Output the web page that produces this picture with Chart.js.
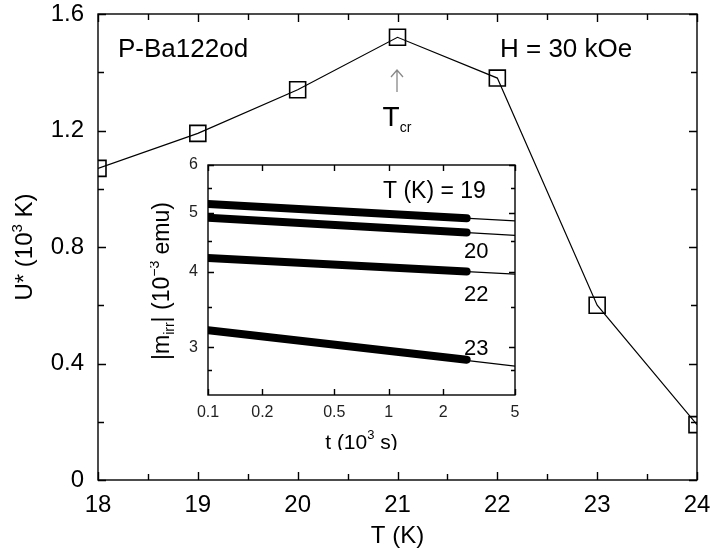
<!DOCTYPE html>
<html>
<head>
<meta charset="utf-8">
<script src="https://cdn.jsdelivr.net/npm/chart.js@4"></script>
<style>
  body { margin: 0; background: #fff; }
  #wrap { position: relative; width: 712px; height: 552px; }
  #mainChart { position: absolute; left: 0; top: 0; }
  #insetChart { position: absolute; left: 150px; top: 150px; }
</style>
</head>
<body>
<div id="wrap">
  <canvas id="mainChart" width="712" height="552"></canvas>
  <canvas id="insetChart" width="380" height="300"></canvas>
</div>
<script>
// main panel: U* vs T
const temps = [18, 19, 20, 21, 22, 23, 24];
const uStar = [1.07, 1.19, 1.34, 1.52, 1.38, 0.60, 0.19];
const xMajor = [18, 19, 20, 21, 22, 23, 24];
const xMinor = [18.5, 19.5, 20.5, 21.5, 22.5, 23.5];
const yMajor = [0, 0.4, 0.8, 1.2, 1.6];
const yMinor = [0.2, 0.6, 1.0, 1.4];
const yLabels = ['0', '0.4', '0.8', '1.2', '1.6'];

// inset: |m_irr| vs t (log-log), measured band + fitted line
const bandT = [0.1, 2.7];
const fitT = [0.1, 5];
const m19 = [5.17, 4.90], fit19 = [5.17, 4.85];
const m20 = [4.91, 4.64], fit20 = [4.91, 4.59];
const m22 = [4.21, 4.00], fit22 = [4.21, 3.96];
const m23 = [3.20, 2.86], fit23 = [3.20, 2.79];
const tTicks = [0.1, 0.2, 0.5, 1, 2, 5];
const tLabels = ['0.1', '0.2', '0.5', '1', '2', '5'];
const mTicks = [3, 4, 5, 6];
const mMinor = [2.75, 3.5, 4.5, 5.5];

const FONT = '"Liberation Sans", Arial, sans-serif';

function pts(xs, ys) {
    return xs.map((x, i) => ({ x: x, y: ys[i] }));
}

// pin scale size and drop the label overflow padding
function fixX(h) {
    return s => { s.height = h; s.paddingLeft = 0; s.paddingRight = 0; };
}
function fixY(w) {
    return s => { s.width = w; s.paddingTop = 0; s.paddingBottom = 0; };
}

// frame + inward ticks on all four sides
function frameTicks(opt) {
    return {
        id: 'frameTicks',
        afterDatasetsDraw(chart) {
            const { ctx, chartArea: a, scales } = chart;
            const xs = scales.x, ys = scales.y;
            ctx.save();
            ctx.strokeStyle = '#000';
            ctx.lineWidth = opt.lw;
            ctx.strokeRect(a.left, a.top, a.right - a.left, a.bottom - a.top);
            ctx.beginPath();
            const vx = (list, len) => list.forEach(v => {
                const p = Math.round(xs.getPixelForValue(v)) + 0.5;
                ctx.moveTo(p, a.bottom); ctx.lineTo(p, a.bottom - len);
                ctx.moveTo(p, a.top); ctx.lineTo(p, a.top + len);
            });
            const vy = (list, len) => list.forEach(v => {
                const p = Math.round(ys.getPixelForValue(v)) + 0.5;
                ctx.moveTo(a.left, p); ctx.lineTo(a.left + len, p);
                ctx.moveTo(a.right, p); ctx.lineTo(a.right - len, p);
            });
            vx(opt.xMajor, opt.major); vx(opt.xMinor, opt.minor);
            vy(opt.yMajor, opt.major); vy(opt.yMinor, opt.minor);
            ctx.stroke();
            ctx.restore();
        }
    };
}

// draw a run of text pieces (size, vertical shift)
function richText(ctx, x, y, parts, align) {
    let w = 0;
    parts.forEach(p => { ctx.font = p.size + 'px ' + FONT; w += ctx.measureText(p.t).width; });
    let cx = align === 'center' ? x - w / 2 : x;
    ctx.textBaseline = 'alphabetic';
    ctx.textAlign = 'left';
    parts.forEach(p => {
        ctx.font = p.size + 'px ' + FONT;
        ctx.fillText(p.t, cx, y + (p.dy || 0));
        cx += ctx.measureText(p.t).width;
    });
}

const mainNotes = {
    id: 'mainNotes',
    afterDraw(chart) {
        const ctx = chart.ctx;
        ctx.save();
        ctx.fillStyle = '#000';
        richText(ctx, 118, 57, [{ t: 'P-Ba122od', size: 26 }], 'left');
        richText(ctx, 500, 57, [{ t: 'H = 30 kOe', size: 26 }], 'left');
        // T_cr marker
        ctx.strokeStyle = '#888';
        ctx.lineWidth = 1.3;
        ctx.beginPath();
        ctx.moveTo(397, 92); ctx.lineTo(397, 70);
        ctx.moveTo(391, 77); ctx.lineTo(397, 70); ctx.lineTo(403, 77);
        ctx.stroke();
        ctx.fillStyle = '#000';
        richText(ctx, 397, 126, [{ t: 'T', size: 28 }, { t: 'cr', size: 14, dy: 6 }], 'center');
        // y title
        ctx.translate(32, 247);
        ctx.rotate(-Math.PI / 2);
        richText(ctx, 0, 0, [{ t: 'U* (10', size: 24 }, { t: '3', size: 15, dy: -10 }, { t: ' K)', size: 24 }], 'center');
        ctx.restore();
    }
};

new Chart(document.getElementById('mainChart'), {
    type: 'line',
    data: {
        datasets: [{
            data: pts(temps, uStar),
            borderColor: '#000',
            borderWidth: 1.2,
            pointStyle: 'rect',
            pointRadius: 11.3,
            pointBorderWidth: 1.6,
            pointBorderColor: '#000',
            pointBackgroundColor: 'rgba(0,0,0,0)',
            clip: 0,
            tension: 0
        }]
    },
    options: {
        responsive: false,
        animation: false,
        events: [],
        layout: { padding: { left: 0, right: 15, top: 14, bottom: 0 } },
        plugins: { legend: { display: false }, tooltip: { enabled: false } },
        scales: {
            x: {
                type: 'linear', min: 18, max: 24,
                afterBuildTicks: s => { s.ticks = xMajor.map(v => ({ value: v })); },
                afterFit: fixX(72),
                grid: { display: false, drawTicks: false },
                border: { display: false },
                ticks: { color: '#000', font: { family: FONT, size: 24 }, padding: 11 },
                title: { display: true, text: 'T (K)', color: '#000', font: { family: FONT, size: 24 }, padding: { top: 0, bottom: 1 } }
            },
            y: {
                type: 'linear', min: 0, max: 1.6,
                afterBuildTicks: s => { s.ticks = yMajor.map(v => ({ value: v })); },
                afterFit: fixY(98),
                grid: { display: false, drawTicks: false },
                border: { display: false },
                ticks: {
                    color: '#000', font: { family: FONT, size: 24 }, padding: 14,
                    callback: (v, i) => yLabels[i]
                }
            }
        }
    },
    plugins: [frameTicks({ lw: 1.4, major: 8, minor: 6, xMajor: xMajor, xMinor: xMinor, yMajor: yMajor, yMinor: yMinor }), mainNotes]
});

const insetNotes = {
    id: 'insetNotes',
    afterDraw(chart) {
        const ctx = chart.ctx;
        const a = chart.chartArea;
        ctx.save();
        ctx.fillStyle = '#000';
        richText(ctx, 233, 48, [{ t: 'T (K) = 19', size: 23 }], 'left');
        richText(ctx, 314, 108, [{ t: '20', size: 22 }], 'left');
        richText(ctx, 314, 151, [{ t: '22', size: 22 }], 'left');
        richText(ctx, 314, 205, [{ t: '23', size: 22 }], 'left');
        richText(ctx, (a.left + a.right) / 2, 299, [{ t: 't (10', size: 21 }, { t: '3', size: 13, dy: -10 }, { t: ' s)', size: 21 }], 'center');
        ctx.translate(19, 131);
        ctx.rotate(-Math.PI / 2);
        richText(ctx, 0, 0, [{ t: '|m', size: 23 }, { t: 'irr', size: 14, dy: 5 }, { t: '| (10', size: 23 },
            { t: '\u22123', size: 14, dy: -10 }, { t: ' emu)', size: 23 }], 'center');
        ctx.restore();
    }
};

function band(ys) {
    return { data: pts(bandT, ys), borderColor: '#000', borderWidth: 8, borderCapStyle: 'round', pointRadius: 0, clip: 0 };
}
function fit(ys) {
    return { data: pts(fitT, ys), borderColor: '#000', borderWidth: 1.1, pointRadius: 0, clip: 0 };
}

new Chart(document.getElementById('insetChart'), {
    type: 'line',
    data: {
        datasets: [fit(fit19), fit(fit20), fit(fit22), fit(fit23), band(m19), band(m20), band(m22), band(m23)]
    },
    options: {
        responsive: false,
        animation: false,
        events: [],
        layout: { padding: { left: 0, right: 15, top: 15, bottom: 0 } },
        plugins: { legend: { display: false }, tooltip: { enabled: false } },
        scales: {
            x: {
                type: 'logarithmic', min: 0.1, max: 5,
                afterBuildTicks: s => { s.ticks = tTicks.map(v => ({ value: v })); },
                afterFit: fixX(55),
                grid: { display: false, drawTicks: false },
                border: { display: false },
                ticks: { color: '#222', font: { family: FONT, size: 16 }, padding: 8, callback: (v, i) => tLabels[i] }
            },
            y: {
                type: 'logarithmic', min: 2.5, max: 6,
                afterBuildTicks: s => { s.ticks = mTicks.map(v => ({ value: v })); },
                afterFit: fixY(58),
                grid: { display: false, drawTicks: false },
                border: { display: false },
                ticks: { color: '#222', font: { family: FONT, size: 16 }, padding: 10, callback: v => String(v) }
            }
        }
    },
    plugins: [frameTicks({ lw: 1.4, major: 6, minor: 4, xMajor: tTicks, xMinor: [], yMajor: mTicks, yMinor: mMinor }), insetNotes]
});
</script>
</body>
</html>
